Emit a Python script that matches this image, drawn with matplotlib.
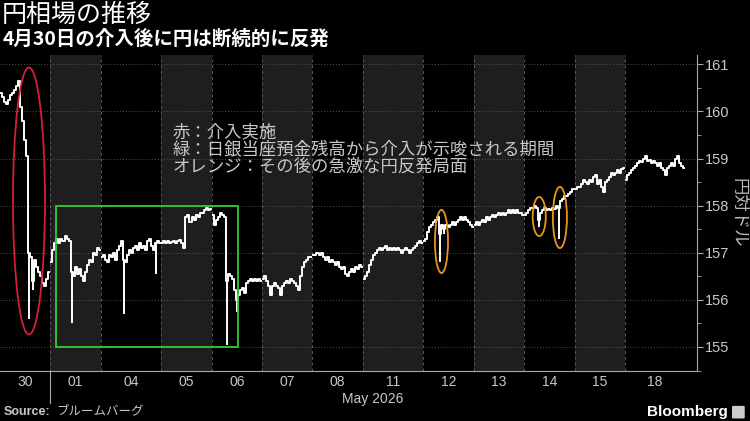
import matplotlib.pyplot as plt
from matplotlib.patches import Ellipse, Rectangle, FancyBboxPatch
from matplotlib.ticker import MultipleLocator
import numpy as np

plt.rcParams['font.family'] = ['Noto Sans CJK JP', 'DejaVu Sans']

# trading days shown on the compressed intraday axis (Mondays carry the weekend gap)
day_labels = ["30", "01", "04", "05", "06", "07", "08", "11", "12", "13", "14", "15", "18"]
day_widths = [1, 1, 1.2, 1, 1, 1, 1, 1.2, 1, 1, 1, 1, 1.2]

# USD/JPY intraday levels
apr30 = [160.40, 160.30, 160.20, 160.15, 160.25, 160.35, 160.40, 160.45, 160.55, 160.65,
         160.10, 159.80, 159.40, 159.05, 157.00, 156.90, 156.40, 156.85, 156.70, 156.60,
         156.50, 156.35, 156.30, 156.45, 156.60]
may01 = [156.80, 157.05, 157.20, 157.30, 157.20, 157.30, 157.25, 157.35, 157.30, 157.25,
         156.60, 156.50, 156.70, 156.55, 156.65, 156.50, 156.40, 156.60, 156.75, 156.85,
         156.80, 157.00, 156.95, 157.10, 157.05]
may04 = [156.90, 156.95, 156.85, 156.80, 156.95, 156.90, 157.00, 156.85, 157.05, 157.15,
         157.25, 156.85, 156.80, 156.95, 157.05, 157.00, 157.10, 157.15, 157.05, 157.20,
         157.10, 157.15, 157.05, 157.25, 157.30, 157.15, 157.05, 157.20, 157.25, 157.20]
may05 = [157.20, 157.25, 157.20, 157.25, 157.20, 157.22, 157.25, 157.20, 157.25, 157.28,
         157.20, 157.10, 157.75, 157.80, 157.65, 157.75, 157.70, 157.80, 157.75, 157.85,
         157.85, 157.90, 157.95, 157.90, 157.92]
may06 = [157.80, 157.60, 157.70, 157.75, 157.85, 157.80, 157.75, 156.40, 156.55, 156.50,
         156.45, 156.20, 156.00, 156.10, 156.20, 156.25, 156.15, 156.35, 156.40, 156.45,
         156.40, 156.45, 156.40, 156.45, 156.40]
may07 = [156.45, 156.50, 156.40, 156.30, 156.10, 156.30, 156.35, 156.30, 156.25, 156.10,
         156.30, 156.35, 156.40, 156.35, 156.45, 156.40, 156.35, 156.30, 156.20, 156.50,
         156.70, 156.80, 156.85, 156.90, 156.90]
may08 = [156.95, 156.95, 157.00, 156.95, 157.00, 156.90, 156.85, 156.90, 156.80, 156.85,
         156.80, 156.75, 156.80, 156.70, 156.65, 156.70, 156.55, 156.50, 156.60, 156.65,
         156.60, 156.70, 156.65, 156.75, 156.70]
may11 = [156.45, 156.50, 156.60, 156.75, 156.85, 156.95, 157.00, 157.05, 157.10, 157.05,
         157.10, 157.15, 157.05, 157.10, 157.05, 157.10, 157.05, 157.10, 157.05, 157.00,
         157.05, 157.10, 157.05, 157.00, 157.05, 157.10, 157.15, 157.20, 157.25, 157.20]
may12 = [157.25, 157.30, 157.45, 157.55, 157.60, 157.65, 157.70, 157.75, 157.40, 157.60,
         157.50, 157.60, 157.55, 157.60, 157.65, 157.60, 157.65, 157.70, 157.75, 157.70,
         157.75, 157.70, 157.65, 157.60, 157.55]
may13 = [157.60, 157.65, 157.60, 157.65, 157.70, 157.65, 157.75, 157.70, 157.75, 157.80,
         157.75, 157.80, 157.85, 157.80, 157.85, 157.80, 157.85, 157.90, 157.85, 157.90,
         157.85, 157.90, 157.85, 157.85, 157.80]
may14 = [157.80, 157.85, 157.90, 157.95, 157.95, 158.00, 157.95, 157.70, 157.85, 157.90,
         157.95, 157.90, 157.92, 157.90, 157.95, 157.92, 158.00, 157.95, 158.10, 158.15,
         158.20, 158.20, 158.25, 158.30, 158.35]
may15 = [158.35, 158.40, 158.40, 158.45, 158.55, 158.50, 158.45, 158.55, 158.50, 158.60,
         158.65, 158.45, 158.55, 158.40, 158.30, 158.50, 158.55, 158.60, 158.70, 158.65,
         158.70, 158.75, 158.70, 158.78, 158.80]
may18 = [158.55, 158.65, 158.70, 158.75, 158.80, 158.85, 158.90, 158.95, 158.93, 159.00,
         159.05, 158.95, 158.98, 158.90, 158.95, 158.90, 158.85, 158.90, 158.80, 158.75,
         158.65, 158.80, 158.85, 158.90, 158.85, 159.00, 159.05, 158.90, 158.85, 158.80]
sessions = [apr30, may01, may04, may05, may06, may07, may08, may11, may12, may13, may14, may15, may18]

# sharp intrabar lows: (day index, bar index, low)
spike_day = [0, 0, 1, 2, 2, 4, 4, 8, 8, 10, 10]
spike_bar = [14, 16, 10, 11, 27, 7, 12, 8, 10, 7, 17]
spike_low = [155.6, 156.2, 155.5, 155.7, 156.55, 155.05, 155.75, 156.8, 157.4, 157.55, 157.3]

note_lines = ["赤：介入実施",
              "緑：日銀当座預金残高から介入が示唆される期間",
              "オレンジ：その後の急激な円反発局面"]

grey = '#c8c8c8'
narrow = ['Liberation Sans Narrow', 'Liberation Sans']
fig = plt.figure(figsize=(7.5, 4.21), dpi=100, facecolor='black')
ax = fig.add_axes([0, 0.1188, 0.9293, 0.7506], facecolor='black')

edges = np.concatenate([[0], np.cumsum(day_widths)])
bar_x = []
for i, vals in enumerate(sessions):
    n = len(vals)
    x = edges[i] + (np.arange(n) + 0.5) * day_widths[i] / n
    bar_x.append(x)
    if i % 2 == 1:
        ax.axvspan(edges[i], edges[i + 1], color='#1e1e1e', zorder=0, lw=0)
    if i > 0:
        ax.axvline(edges[i], color='#5a5a5a', lw=0.7, ls=(0, (3, 3)), zorder=1)
    ax.plot(x, vals, drawstyle='steps-mid', color='white', lw=1.4, zorder=3)

for d, b, low in zip(spike_day, spike_bar, spike_low):
    ax.vlines(bar_x[d][b], low, sessions[d][b], color='white', lw=1.4, zorder=3)

ax.set_xlim(0, 13.83)
ax.set_ylim(154.49, 161.2)

# annotations
ax.add_patch(Ellipse((0.575, 158.1), 0.635, 5.67, fill=False, ec='#d41f3a', lw=1.3, zorder=4))
ax.add_patch(Rectangle((1.11, 155.0), 3.61, 3.0, fill=False, ec='#33cc33', lw=1.3, zorder=4))
for cx, cy, w, h in [(8.76, 157.24, 0.26, 1.34), (10.70, 157.77, 0.26, 0.83), (11.11, 157.75, 0.28, 1.30)]:
    ax.add_patch(Ellipse((cx, cy), w, h, fill=False, ec='#e8961e', lw=1.3, zorder=4))

for k, line in enumerate(note_lines):
    ax.text(3.43, 159.55 - k * 0.36, line, color=grey, fontsize=12.5, va='center', ha='left', zorder=5)

# axes styling
ax.yaxis.tick_right()
ax.yaxis.set_major_locator(MultipleLocator(1))
ax.yaxis.set_minor_locator(MultipleLocator(0.5))
ax.tick_params(axis='y', which='major', colors='#aaaaaa', length=4, labelsize=10.5, labelcolor=grey, pad=2)
ax.tick_params(axis='y', which='minor', colors='#aaaaaa', length=3)
for lab in ax.get_yticklabels():
    lab.set_family(narrow)
ax.grid(axis='y', color='#555555', lw=0.7, ls=(0, (1, 2)))
ax.set_axisbelow(True)

centers = edges[:-1] + np.array(day_widths) / 2
ax.set_xticks(centers)
ax.set_xticklabels(day_labels, family=narrow)
ax.tick_params(axis='x', length=0, labelsize=10, labelcolor=grey, pad=3)

for side in ['left', 'top']:
    ax.spines[side].set_visible(False)
ax.spines['right'].set_color('#aaaaaa')
ax.spines['bottom'].set_color('#aaaaaa')

ax.plot([1.0, 1.0], [0, -0.101], transform=ax.get_xaxis_transform(), color='#aaaaaa', lw=0.8, clip_on=False)
ax.text(7.4, -0.088, "May 2026", transform=ax.get_xaxis_transform(), ha='center', va='center',
        color=grey, fontsize=10, family=narrow)

fig.text(0.985, 0.495, "円対ドル", rotation=270, color='#bbbbbb', fontsize=12.5, ha='center', va='center')

fig.text(0.003, 0.964, "円相場の推移", color='white', fontsize=18, va='center', ha='left')
fig.text(0.003, 0.907, "4月30日の介入後に円は断続的に反発", color='white', fontsize=14,
         fontweight='bold', va='center', ha='left')

fig.text(0.005, 0.022, "Source:", color=grey, fontsize=9, fontweight='bold', va='center', ha='left',
         family=['Liberation Sans', 'DejaVu Sans'])
fig.text(0.075, 0.022, "ブルームバーグ", color=grey, fontsize=9, va='center', ha='left')
fig.text(0.971, 0.022, "Bloomberg", color='white', fontsize=11, fontweight='bold', va='center', ha='right',
         family=['Liberation Sans', 'DejaVu Sans'])
fig.patches.append(FancyBboxPatch((0.978, 0.008), 0.013, 0.026, boxstyle='round,pad=0.002',
                                  transform=fig.transFigure, fc='#cccccc', ec='none'))

fig.savefig('out.png', dpi=100, facecolor='black')
